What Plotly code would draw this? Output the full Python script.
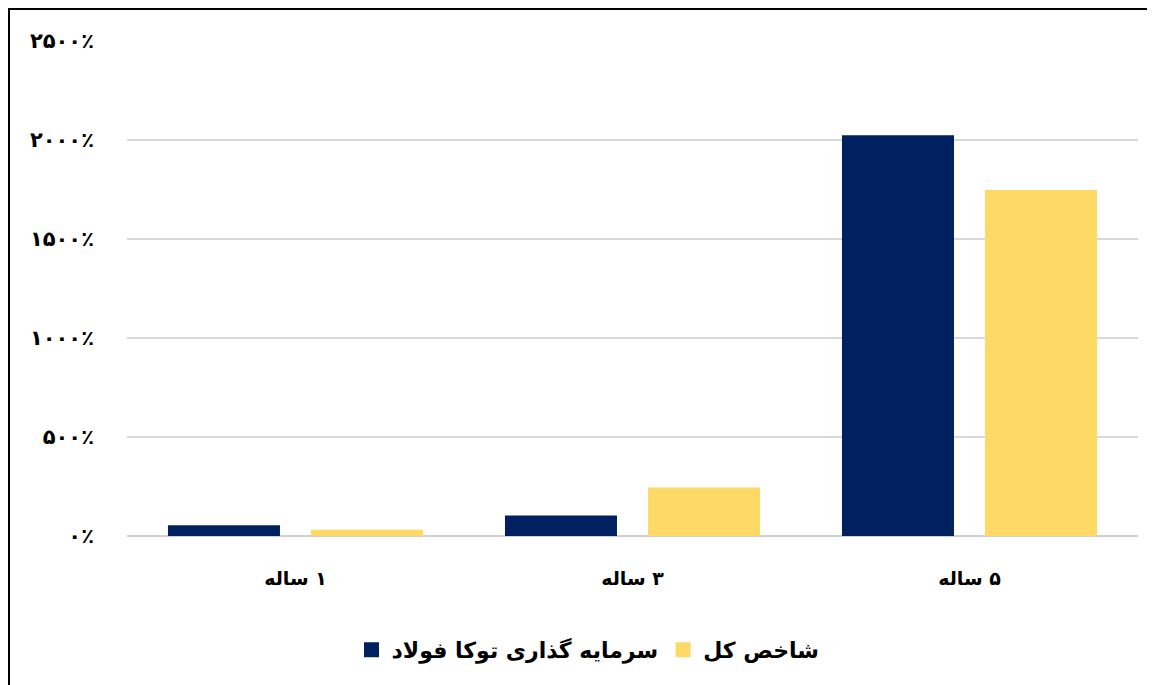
import plotly.graph_objects as go

categories = ["۱ ساله", "۳ ساله", "۵ ساله"]
series_names = ["سرمایه گذاری توکا فولاد", "شاخص کل"]
toka_values = [54, 103, 2024]
index_values = [32, 245, 1747]
tick_values = [0, 500, 1000, 1500, 2000, 2500]
tick_labels = ["۰٪", "۵۰۰٪", "۱۰۰۰٪", "۱۵۰۰٪", "۲۰۰۰٪", "۲۵۰۰٪"]
colors = ["#002060", "#FFD966"]

RLM = "\u200f"
xcats = [RLM + c for c in categories]

FONT = "DejaVu Sans"

# page body has an 8px margin; figure sized to fit the window
W, H = 1147, 677
L, T, PW, PH = 119, 33, 1011, 495
R = W - L - PW
B = H - T - PH

fig = go.Figure()
for vals, name, col in [(toka_values, series_names[0], colors[0]),
                        (index_values, series_names[1], colors[1])]:
    fig.add_trace(go.Bar(x=xcats, y=vals, name=name, showlegend=False,
                         marker=dict(color=col, line=dict(width=0))))
for name, col in zip(series_names, colors):
    fig.add_trace(go.Scatter(x=[None], y=[None], mode="markers", name=name,
                             marker=dict(symbol="square", size=15, color=col)))

def px_x(x):
    return (x - L) / PW

def px_y(y):
    return (T + PH - y) / PH

fig.update_layout(
    width=W, height=H,
    margin=dict(l=L, r=R, t=T, b=B),
    paper_bgcolor="white", plot_bgcolor="white",
    barmode="group", bargap=0.151, bargroupgap=0.217,
    font=dict(family=FONT, color="#000000"),
    showlegend=True,
    legend=dict(orientation="h", x=px_x(580), xanchor="center",
                y=px_y(642), yanchor="middle",
                font=dict(family=FONT, size=22, weight="bold", color="#000000"),
                itemwidth=30, tracegroupgap=0),
    xaxis=dict(showgrid=False, showline=False, ticks="",
               tickfont=dict(family=FONT, size=19, weight="bold", color="#000000"),
               ticklabelstandoff=29),
    yaxis=dict(range=[0, 2500], tickvals=tick_values, ticktext=tick_labels,
               showgrid=True, gridcolor="#d9d9d9", gridwidth=1.5,
               zeroline=True, zerolinecolor="#d0d0d0", zerolinewidth=2,
               showline=False, ticks="",
               tickfont=dict(family=FONT, size=21, weight="bold", color="#000000"),
               ticklabelstandoff=32),
    shapes=[dict(type="rect", xref="paper", yref="paper",
                 x0=px_x(1), x1=px_x(W + 20),
                 y0=px_y(H + 20), y1=px_y(1),
                 line=dict(color="black", width=2), fillcolor="rgba(0,0,0,0)",
                 layer="above")],
)

fig.write_html("out.html")
